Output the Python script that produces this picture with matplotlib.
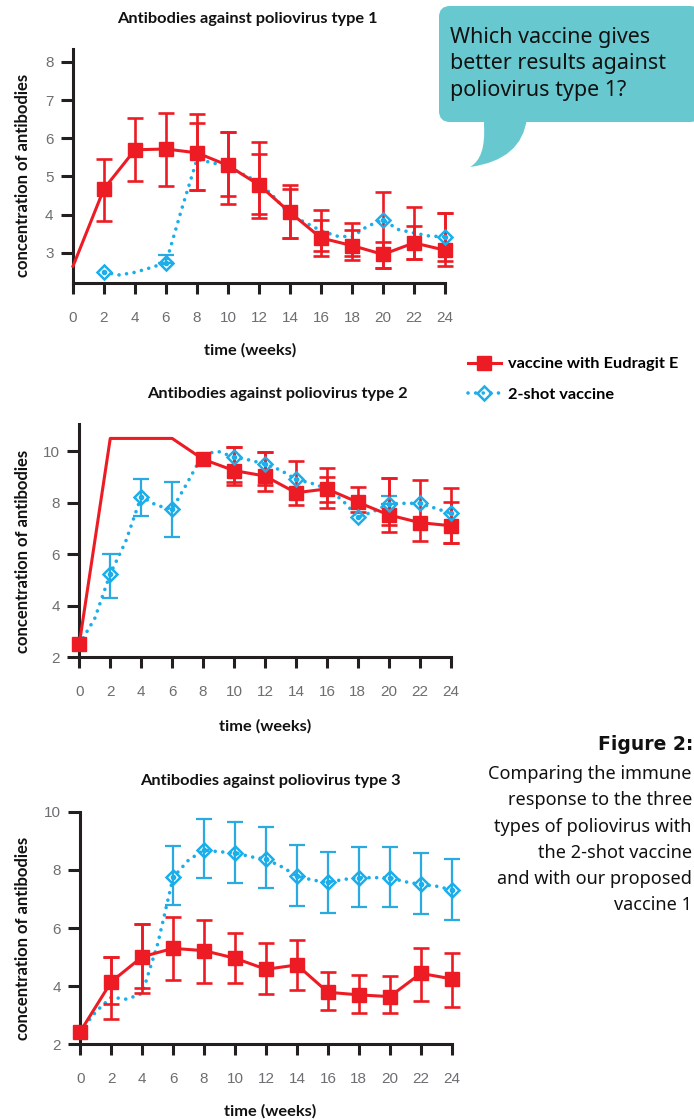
import matplotlib
matplotlib.use('Agg')
import matplotlib.pyplot as plt
from matplotlib.patches import FancyBboxPatch, PathPatch
from matplotlib.path import Path
from matplotlib.lines import Line2D

# ---- data ----
# type 1
red_weeks1 = [0, 2, 4, 6, 8, 10, 12, 14, 16, 18, 20, 22, 24]
red_vals1 = [2.65, 4.68, 5.70, 5.72, 5.62, 5.29, 4.78, 4.06, 3.39, 3.19, 2.96, 3.26, 3.07]
red_err_weeks1 = [2, 4, 6, 8, 10, 12, 14, 16, 18, 20, 22, 24]
red_lo1 = [3.83, 4.88, 4.76, 4.64, 4.27, 3.92, 3.38, 2.91, 2.80, 2.61, 2.83, 2.65]
red_hi1 = [5.46, 6.53, 6.66, 6.64, 6.17, 5.91, 4.79, 4.12, 3.77, 4.59, 4.20, 4.05]
red_err2_weeks1 = [8, 10, 12, 14, 16, 18, 20, 22, 24]
red_lo1b = [4.64, 4.50, 4.02, 3.38, 3.04, 2.91, 2.61, 2.83, 2.78]
red_hi1b = [6.40, 6.17, 5.59, 4.66, 3.86, 3.59, 3.29, 3.70, 4.05]
red_marks1 = [2, 4, 6, 8, 10, 12, 14, 16, 18, 20, 22, 24]

blue_weeks1 = list(range(2, 25))
blue_vals1 = [2.49, 2.42, 2.49, 2.61, 2.74, 4.13, 5.45, 5.36, 5.25, 5.05, 4.85, 4.45,
              4.00, 3.79, 3.58, 3.44, 3.42, 3.70, 3.86, 3.61, 3.52, 3.44, 3.42]
blue_marks1 = [2, 6, 20, 24]
blue_err_weeks1 = [6]
blue_lo1 = [2.74]
blue_hi1 = [2.94]

# type 2
red_weeks2 = [0, 2, 4, 6, 8, 10, 12, 14, 16, 18, 20, 22, 24]
red_vals2 = [2.52, 10.5, 10.5, 10.5, 9.69, 9.25, 9.04, 8.39, 8.54, 8.02, 7.53, 7.23, 7.11]
red_err_weeks2 = [10, 12, 14, 16, 18, 20, 22, 24]
red_lo2 = [8.69, 8.47, 7.92, 7.79, 7.66, 6.88, 6.53, 6.43]
red_hi2 = [10.16, 9.99, 9.64, 9.34, 8.60, 8.98, 8.89, 8.59]
red_err2_weeks2 = [10, 12, 16, 20, 24]
red_lo2b = [8.82, 8.69, 8.02, 7.14, 6.43]
red_hi2b = [10.16, 9.99, 8.99, 8.98, 8.02]
red_marks2 = [0, 8, 10, 12, 14, 16, 18, 20, 22, 24]

blue_weeks2 = list(range(0, 25))
blue_vals2 = [2.50, 3.51, 5.24, 6.50, 8.24, 7.90, 7.75, 8.80, 9.90, 9.99, 9.77, 9.66, 9.50,
              9.27, 8.91, 8.76, 8.55, 8.10, 7.44, 7.66, 7.96, 7.98, 7.98, 7.79, 7.59]
blue_marks2 = [2, 4, 6, 10, 12, 14, 18, 20, 22, 24]
blue_err_weeks2 = [2, 4, 6, 20]
blue_lo2 = [4.32, 7.50, 6.66, 7.96]
blue_hi2 = [6.00, 8.93, 8.80, 8.27]

# type 3
red_weeks3 = [0, 2, 4, 6, 8, 10, 12, 14, 16, 18, 20, 22, 24]
red_vals3 = [2.44, 4.15, 5.01, 5.30, 5.22, 4.96, 4.58, 4.73, 3.79, 3.70, 3.64, 4.44, 4.25]
red_err_weeks3 = [2, 4, 6, 8, 10, 12, 14, 16, 18, 20, 22, 24]
red_lo3 = [2.86, 3.75, 4.21, 4.12, 4.10, 3.72, 3.87, 3.18, 3.09, 3.07, 3.49, 3.30]
red_hi3 = [5.01, 6.13, 6.39, 6.28, 5.82, 5.47, 5.59, 4.48, 4.38, 4.36, 5.30, 5.15]
red_err2_weeks3 = [2, 4]
red_lo3b = [3.38, 3.95]
red_hi3b = [5.01, 6.13]
red_marks3 = [0, 2, 4, 6, 8, 10, 12, 14, 16, 18, 20, 22, 24]

blue_weeks3 = list(range(0, 25))
blue_vals3 = [2.44, 3.12, 3.62, 3.55, 3.75, 5.45, 7.74, 8.34, 8.68, 8.62, 8.59, 8.45, 8.37,
              8.11, 7.79, 7.65, 7.57, 7.67, 7.73, 7.73, 7.73, 7.59, 7.50, 7.44, 7.31]
blue_marks3 = [6, 8, 10, 12, 14, 16, 18, 20, 22, 24]
blue_err_weeks3 = [6, 8, 10, 12, 14, 16, 18, 20, 22, 24]
blue_lo3 = [6.79, 7.71, 7.54, 7.36, 6.77, 6.53, 6.71, 6.71, 6.48, 6.28]
blue_hi3 = [8.82, 9.74, 9.63, 9.46, 8.85, 8.62, 8.80, 8.80, 8.57, 8.37]

x_ticks = list(range(0, 25, 2))

bubble_lines = ['Which vaccine gives', 'better results against', 'poliovirus type 1?']
caption_lines = ['Comparing the immune', 'response to the three', 'types of poliovirus with',
                 'the 2-shot vaccine', 'and with our proposed', 'vaccine 1']

RED = '#ED1C24'
BLUE = '#1AAEEA'
BLUE_ERR = '#29ABE2'
DARK = '#231F20'
GREY = '#6D6E71'

W, H = 694, 1119
fig = plt.figure(figsize=(W/100, H/100), dpi=100)


def px_axes(left, right, top, bottom):
    return fig.add_axes([left/W, 1-bottom/H, (right-left)/W, (bottom-top)/H])


def errbars(ax, weeks, vals, lo, hi, color, lw, z):
    # asymmetric error bars from the low/high ends
    lower = [max(v-l, 0) for v, l in zip(vals, lo)]
    upper = [max(h-v, 0) for v, h in zip(vals, hi)]
    ax.errorbar(weeks, vals, yerr=[lower, upper], fmt='none', ecolor=color,
                elinewidth=lw, capsize=6, capthick=lw, zorder=z, clip_on=False)


def panel(ax, ylim, yticks, rw, rv, rew, rlo, rhi, rew2, rlo2, rhi2, rmarks,
          bw, bv, bmarks, bew, blo, bhi):
    # blue 2-shot vaccine
    ax.plot(bw, bv, color=BLUE, lw=2.6, ls=(0, (0.01, 2.1)), dash_capstyle='round',
            zorder=2, clip_on=False)
    bsel = [bv[bw.index(w)] for w in bmarks]
    ax.plot(bmarks, bsel, ls='none', marker='D', ms=7.5, mfc='none', mec=BLUE,
            mew=1.8, zorder=5, clip_on=False)
    ax.plot(bmarks, bsel, ls='none', marker='o', ms=3, color=BLUE, zorder=5, clip_on=False)
    errbars(ax, bew, [bv[bw.index(w)] for w in bew], blo, bhi, BLUE_ERR, 1.6, 2)

    # red Eudragit vaccine
    ax.plot(rw, rv, color=RED, lw=2.2, zorder=3, clip_on=False)
    rsel = [rv[rw.index(w)] for w in rmarks]
    ax.plot(rmarks, rsel, ls='none', marker='s', ms=10, color=RED, zorder=4, clip_on=False)
    errbars(ax, rew, [rv[rw.index(w)] for w in rew], rlo, rhi, RED, 1.9, 3)
    errbars(ax, rew2, [rv[rw.index(w)] for w in rew2], rlo2, rhi2, RED, 1.9, 3)

    ax.set_xlim(0, 24)
    ax.set_ylim(*ylim)
    ax.set_xticks(x_ticks)
    ax.set_yticks(yticks)
    ax.set_facecolor('none')
    for s in ['top', 'right']:
        ax.spines[s].set_visible(False)
    for s in ['left', 'bottom']:
        ax.spines[s].set_linewidth(2.2)
        ax.spines[s].set_color(DARK)
    ax.tick_params(axis='x', direction='out', length=8, width=2.2, color=DARK,
                   labelcolor=GREY, labelsize=11, pad=12)
    ax.tick_params(axis='y', direction='out', length=9, width=2.2, color=DARK,
                   labelcolor=GREY, labelsize=11, pad=5)
    for lab in ax.get_xticklabels() + ax.get_yticklabels():
        lab.set_family('Liberation Sans')


ax1 = px_axes(73, 445, 49, 283)
panel(ax1, (2.21, 8.34), [3, 4, 5, 6, 7, 8], red_weeks1, red_vals1, red_err_weeks1,
      red_lo1, red_hi1, red_err2_weeks1, red_lo1b, red_hi1b, red_marks1,
      blue_weeks1, blue_vals1, blue_marks1, blue_err_weeks1, blue_lo1, blue_hi1)

ax2 = px_axes(79.3, 450.7, 424, 657.3)
panel(ax2, (2, 11.06), [2, 4, 6, 8, 10], red_weeks2, red_vals2, red_err_weeks2,
      red_lo2, red_hi2, red_err2_weeks2, red_lo2b, red_hi2b, red_marks2,
      blue_weeks2, blue_vals2, blue_marks2, blue_err_weeks2, blue_lo2, blue_hi2)

ax3 = px_axes(80.3, 451.7, 811.7, 1044.3)
panel(ax3, (2, 10), [2, 4, 6, 8, 10], red_weeks3, red_vals3, red_err_weeks3,
      red_lo3, red_hi3, red_err2_weeks3, red_lo3b, red_hi3b, red_marks3,
      blue_weeks3, blue_vals3, blue_marks3, blue_err_weeks3, blue_lo3, blue_hi3)


def ftext(x, y, s, **kw):
    fig.text(x/W, 1-y/H, s, **kw)


bold = dict(family='Lato', weight='bold', color='#111111')
ftext(247, 19, 'Antibodies against poliovirus type 1', ha='center', va='center', fontsize=11.8, **bold)
ftext(277, 394, 'Antibodies against poliovirus type 2', ha='center', va='center', fontsize=11.8, **bold)
ftext(270, 781, 'Antibodies against poliovirus type 3', ha='center', va='center', fontsize=11.8, **bold)
ftext(250, 350, 'time (weeks)', ha='center', va='center', fontsize=11.8, **bold)
ftext(265, 726, 'time (weeks)', ha='center', va='center', fontsize=11.8, **bold)
ftext(270, 1111, 'time (weeks)', ha='center', va='center', fontsize=11.8, **bold)
for yc in [175, 551, 938]:
    ftext(23, yc, 'concentration of antibodies', ha='center', va='center', rotation=90,
          fontsize=12, **bold)

# overlay in pixel coordinates for the speech bubble
ov = fig.add_axes([0, 0, 1, 1])
ov.set_xlim(0, W)
ov.set_ylim(H, 0)
ov.axis('off')
ov.patch.set_visible(False)
BUBBLE = '#67C9CF'
ov.add_patch(FancyBboxPatch((439, 6), 262, 116, boxstyle='round,pad=0,rounding_size=11',
                            fc=BUBBLE, ec='none'))
tail = Path([(484, 115), (484, 125), (486, 158), (470, 167), (522, 160), (527, 118), (484, 115)],
            [Path.MOVETO, Path.LINETO, Path.CURVE3, Path.CURVE3, Path.CURVE3, Path.CURVE3, Path.CLOSEPOLY])
ov.add_patch(PathPatch(tail, fc=BUBBLE, ec='none'))
for i, line in enumerate(bubble_lines):
    ov.text(450, 35 + 26.5*i, line, ha='left', va='center_baseline', fontsize=15.5,
            family='Noto Sans', color='#111111')

# caption
ov.text(693, 743, 'Figure 2:', ha='right', va='center_baseline', fontsize=13.5,
        family='DejaVu Sans', weight='bold', color='#111111')
for i, line in enumerate(caption_lines):
    ov.text(692, 772 + 26.3*i, line, ha='right', va='center_baseline', fontsize=13,
            family='Noto Sans', color='#111111')

# legend
h_red = Line2D([], [], color=RED, lw=2.2, marker='s', ms=10)
h_blue = Line2D([], [], color=BLUE, lw=2.6, ls=(0, (0.01, 2.1)), dash_capstyle='round',
                marker='D', ms=7.5, mfc='none', mec=BLUE, mew=1.8)
fig.legend([h_red, h_blue], ['vaccine with Eudragit E', '2-shot vaccine'],
           loc='upper left', bbox_to_anchor=(468/W, 1-357/H), frameon=False,
           prop=dict(family='Lato', weight='bold', size=11.8), handlelength=2.0,
           handletextpad=0.45, labelspacing=0.95, borderpad=0, borderaxespad=0, numpoints=1)

fig.savefig('out.png', dpi=100)
